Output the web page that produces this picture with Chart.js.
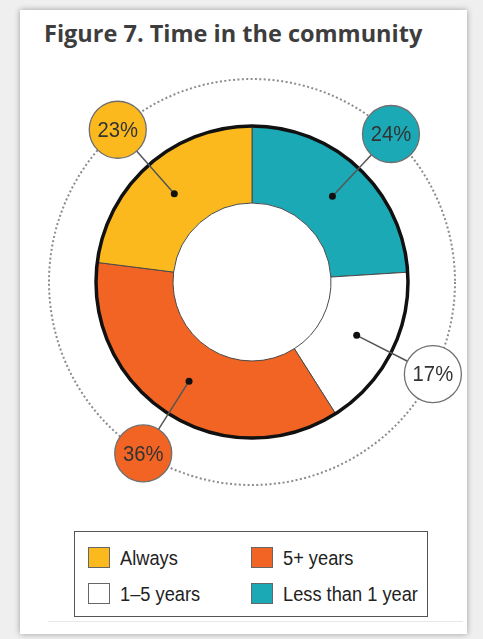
<!DOCTYPE html>
<html>
<head>
<meta charset="utf-8">
<script src="https://cdn.jsdelivr.net/npm/chart.js@4/dist/chart.umd.min.js"></script>
<style>
  html, body { margin: 0; padding: 0; }
  body { width: 483px; height: 639px; background: #efefef; position: relative; overflow: hidden; }
  .card {
    position: absolute; left: 20px; top: 10px; width: 447px; height: 624px;
    background: #fff; box-shadow: 0 0 6px rgba(0,0,0,0.35);
  }
  .title {
    position: absolute; left: 44px; top: 17px; margin: 0;
    font: bold 23.5px "Open Sans", sans-serif; color: #3d3d3d; white-space: nowrap;
  }
  .chart-wrap { position: absolute; left: 0; top: 0; width: 483px; height: 520px; }
  .legend {
    position: absolute; left: 74px; top: 531px; width: 352px; height: 84px;
    border: 1.5px solid #555; background: #fff; z-index: 2;
  }
  .legend .item { position: absolute; height: 22px; }
  .legend .swatch {
    position: absolute; left: 0; top: 0; width: 22px; height: 21px;
    border: 1px solid #666; box-sizing: border-box;
  }
  .legend .label {
    position: absolute; left: 32px; top: -1px; white-space: nowrap;
    font: 20.5px "Liberation Sans", Arial, sans-serif; color: #222;
    transform: scaleX(0.89); transform-origin: left center;
  }
  .rule { position: absolute; left: 48px; top: 621px; width: 415px; height: 1px; background: #e8e8e8; }
</style>
</head>
<body>
<div class="card"></div>
<h1 class="title">Figure 7. Time in the community</h1>
<div class="chart-wrap"><canvas id="ring"></canvas></div>
<div class="legend" id="legend"></div>
<div class="rule"></div>
<script>
// slices go clockwise from 12 o'clock
const categories = ['Less than 1 year', '1–5 years', '5+ years', 'Always']
const shares = [24, 17, 36, 23]
const sliceColors = ['#1ba9b6', '#ffffff', '#f26424', '#fbb91e']
// legend reads left-to-right, top-to-bottom
const legendOrder = ['Always', '5+ years', '1–5 years', 'Less than 1 year']

const RING_OUTER = 156
const RING_INNER = 79
const ORBIT = 203
const BUBBLE_R = 28.5

const callouts = {
  id: 'callouts',
  beforeDatasetsDraw(chart) {
    const arc = chart.getDatasetMeta(0).data[0]
    const ctx = chart.ctx
    ctx.save()
    ctx.setLineDash([2, 2.4])
    ctx.strokeStyle = '#8c8c8c'
    ctx.lineWidth = 2
    ctx.beginPath()
    ctx.arc(arc.x, arc.y, ORBIT, 0, Math.PI * 2)
    ctx.stroke()
    ctx.restore()
  },
  afterDatasetsDraw(chart) {
    const ctx = chart.ctx
    const meta = chart.getDatasetMeta(0)
    const first = meta.data[0]

    // heavy outer rim
    ctx.save()
    ctx.strokeStyle = '#111'
    ctx.lineWidth = 3.5
    ctx.beginPath()
    ctx.arc(first.x, first.y, first.outerRadius, 0, Math.PI * 2)
    ctx.stroke()

    meta.data.forEach((arc, i) => {
      const p = arc.getProps(['x', 'y', 'startAngle', 'endAngle', 'innerRadius', 'outerRadius'], true)
      const mid = (p.startAngle + p.endAngle) / 2
      const rMid = (p.innerRadius + p.outerRadius) / 2
      const dx = p.x + Math.cos(mid) * rMid
      const dy = p.y + Math.sin(mid) * rMid
      const bx = p.x + Math.cos(mid) * ORBIT
      const by = p.y + Math.sin(mid) * ORBIT

      // leader line
      ctx.strokeStyle = '#555'
      ctx.lineWidth = 1.5
      ctx.beginPath()
      ctx.moveTo(dx, dy)
      ctx.lineTo(bx - Math.cos(mid) * BUBBLE_R, by - Math.sin(mid) * BUBBLE_R)
      ctx.stroke()

      ctx.fillStyle = '#111'
      ctx.beginPath()
      ctx.arc(dx, dy, 3.5, 0, Math.PI * 2)
      ctx.fill()

      // bubble
      ctx.fillStyle = sliceColors[i]
      ctx.strokeStyle = '#6f6f6f'
      ctx.lineWidth = 1.3
      ctx.beginPath()
      ctx.arc(bx, by, BUBBLE_R, 0, Math.PI * 2)
      ctx.fill()
      ctx.stroke()

      ctx.save()
      ctx.translate(bx, by + 1)
      ctx.scale(0.9, 1)
      ctx.fillStyle = '#333'
      ctx.font = '22.5px "Liberation Sans", Arial, sans-serif'
      ctx.textAlign = 'center'
      ctx.textBaseline = 'middle'
      ctx.fillText(shares[i] + '%', 0, 0)
      ctx.restore()
    })
    ctx.restore()
  }
}

new Chart(document.getElementById('ring'), {
  type: 'doughnut',
  data: {
    labels: categories,
    datasets: [{
      data: shares,
      backgroundColor: sliceColors,
      borderColor: '#4a4a4a',
      borderWidth: 1
    }]
  },
  options: {
    responsive: true,
    maintainAspectRatio: false,
    animation: false,
    events: [],
    radius: RING_OUTER,
    cutout: (RING_INNER / RING_OUTER * 100) + '%',
    layout: { padding: { left: 21, top: 44, right: 0, bottom: 0 } },
    plugins: {
      legend: { display: false },
      tooltip: { enabled: false }
    }
  },
  plugins: [callouts]
})

// two-column legend
const legendEl = document.getElementById('legend')
legendOrder.forEach((name, k) => {
  const idx = categories.indexOf(name)
  const item = document.createElement('div')
  item.className = 'item'
  item.style.left = (k % 2 === 0 ? 13 : 176) + 'px'
  item.style.top = (k < 2 ? 15 : 51) + 'px'
  const sw = document.createElement('div')
  sw.className = 'swatch'
  sw.style.background = sliceColors[idx]
  const lb = document.createElement('span')
  lb.className = 'label'
  lb.textContent = name
  item.appendChild(sw)
  item.appendChild(lb)
  legendEl.appendChild(item)
})
</script>
</body>
</html>
